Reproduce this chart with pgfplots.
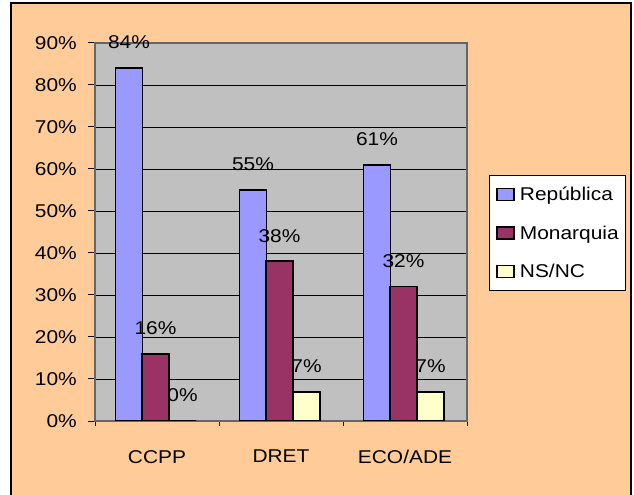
\documentclass[border=0pt]{standalone}
\usepackage{fontspec}
\setmainfont{Liberation Sans}[FakeStretch=1.13]
\usepackage{pgfplots}
\pgfplotsset{compat=1.18}
\definecolor{peach}{HTML}{FFCC99}
\definecolor{plotgray}{HTML}{C0C0C0}
\definecolor{cblue}{HTML}{9999FF}
\definecolor{cmaroon}{HTML}{993366}
\definecolor{cyellow}{HTML}{FFFFCC}
\newcommand{\cf}{\fontsize{18.5bp}{22bp}\selectfont}
\pgfplotsset{
  mylegend/.style={legend image code/.code={\draw[##1, line width=1.5bp] (0bp,-6bp) rectangle (17bp,6bp);}},
  mylabels/.style={draw=none, mark=none, forget plot,
    nodes near coords={\pgfmathprintnumber{\pgfplotspointmeta}\%},
    every node near coord/.append style={font=\cf, inner sep=0pt, anchor=south, xshift=#1, yshift=19bp}},
}
\begin{document}
\begin{tikzpicture}
\path[use as bounding box, fill=white] (0,0) rectangle (634bp,495bp);
\filldraw[fill=peach, draw=black, line width=1.5bp] (11bp,-5bp) rectangle (631bp,492bp);
\begin{axis}[
  at={(95bp,74bp)}, anchor=south west,
  scale only axis, width=372bp, height=378bp,
  xmin=-0.5, xmax=2.5, ymin=0, ymax=90,
  axis background/.style={fill=plotgray},
  axis line style={draw=black!60, line width=1.2bp},
  xtick={0,1,2}, xticklabels={CCPP,DRET,ECO/ADE},
  major x tick style={draw=none},
  minor xtick={-0.5,0.5,1.5,2.5},
  minor tick length=5bp,
  minor x tick style={black, line width=1bp},
  ytick={0,10,20,30,40,50,60,70,80,90},
  yticklabels={0\%,10\%,20\%,30\%,40\%,50\%,60\%,70\%,80\%,90\%},
  major tick length=7bp,
  major y tick style={black, line width=1bp},
  tick align=outside, tick pos=left,
  ymajorgrids, major grid style={black, line width=0.8bp},
  /pgf/number format/assume math mode=true,
  yticklabel style={font=\cf, anchor=east, inner sep=0pt, xshift=-11bp},
  xticklabel style={font=\cf, anchor=north, inner sep=0pt, yshift=-22bp},
  legend style={at={(1.059,0.651)}, anchor=north west, draw=black, line width=1bp,
    fill=white, inner xsep=7bp, inner ysep=0pt, row sep=0pt, column sep=5bp,
    font=\cf, nodes={inner sep=0pt, minimum height=38.5bp}},
  legend cell align=left,
]
% labels (drawn beneath the bars)
\addplot[mylabels=-28bp] coordinates {(0,84) (1,55) (2,61)};
\addplot[mylabels=-1.5bp] coordinates {(0,16) (1,38) (2,32)};
\addplot[mylabels=25.5bp] coordinates {(0,0) (1,7) (2,7)};
% bars
\addplot[ybar, bar width=27bp, bar shift=-28bp, fill=cblue, draw=black, line width=1.8bp, mylegend]
  coordinates {(0,84) (1,55) (2,61)};
\addlegendentry{República}
\addplot[ybar, bar width=27bp, bar shift=-1.5bp, fill=cmaroon, draw=black, line width=1.8bp, mylegend]
  coordinates {(0,16) (1,38) (2,32)};
\addlegendentry{Monarquia}
\addplot[ybar, bar width=27bp, bar shift=25.5bp, fill=cyellow, draw=black, line width=1.8bp, mylegend]
  coordinates {(0,0) (1,7) (2,7)};
\addlegendentry{NS/NC}
\end{axis}
\end{tikzpicture}
\end{document}
